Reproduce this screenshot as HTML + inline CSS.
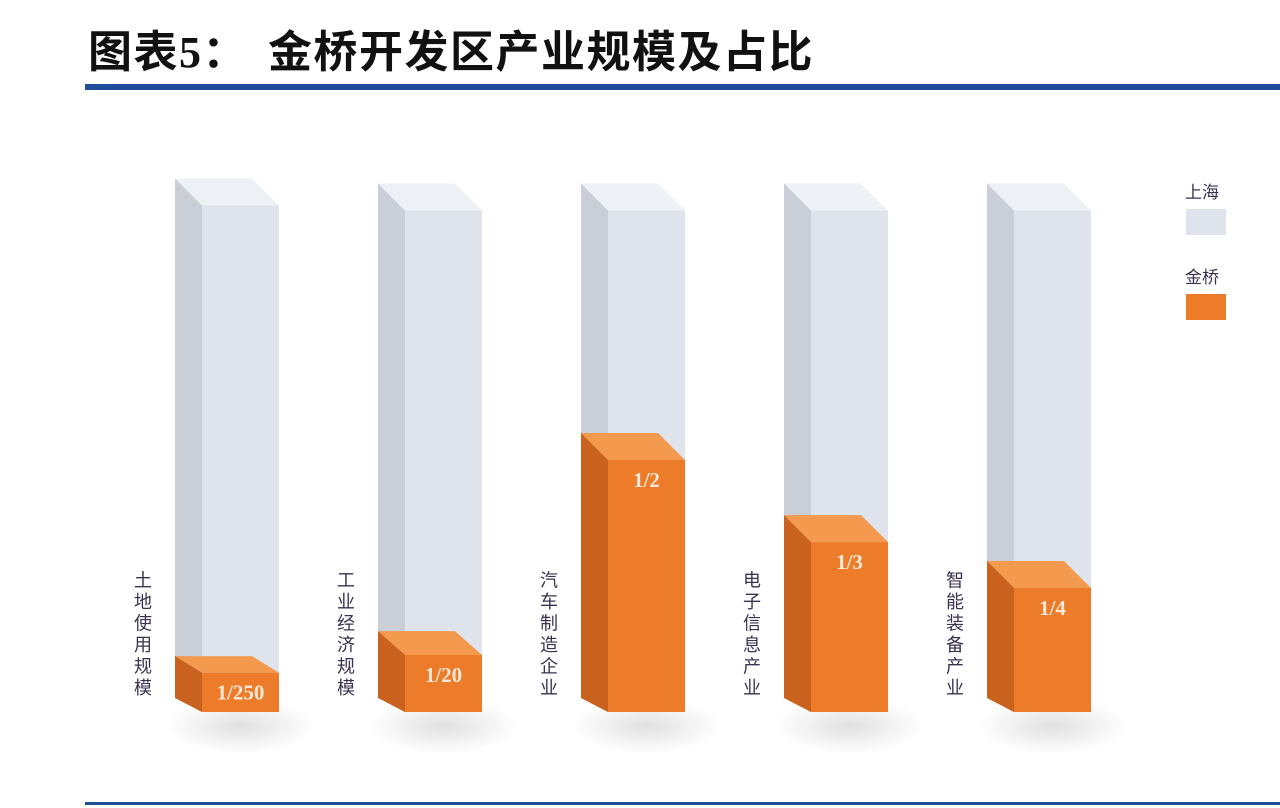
<!DOCTYPE html>
<html><head><meta charset="utf-8">
<style>
body{margin:0;background:#fff;width:1280px;height:808px;overflow:hidden;font-family:"Liberation Sans","Noto Sans CJK SC",sans-serif;}
.title{position:absolute;top:16px;font-size:44px;font-weight:bold;color:#111;font-family:"Liberation Serif","Noto Sans CJK SC",sans-serif;white-space:pre;letter-spacing:1.5px;}
#topline{position:absolute;left:85px;top:84px;width:1195px;height:6px;background:#1f4f9a;}
#botline{position:absolute;left:85px;top:802px;width:1195px;height:3px;background:#1f4f9a;}
svg{position:absolute;left:0;top:0;}
</style></head><body>
<div class="title" style="left:88px">图表5：</div>
<div class="title" style="left:268px">金桥开发区产业规模及占比</div>
<div id="topline"></div>
<div id="botline"></div>
<svg id="chart" width="1280" height="808">
<defs>
<radialGradient id="sh"><stop offset="0" stop-color="#000" stop-opacity="0.12"/><stop offset="1" stop-color="#000" stop-opacity="0"/></radialGradient>
</defs>
</svg>
<script>
const categories=["土地使用规模","工业经济规模","汽车制造企业","电子信息产业","智能装备产业"];
const valueLabels=["1/250","1/20","1/2","1/3","1/4"];
const jinqiao=[0.078,0.113,0.5,0.337,0.246];
const shanghai=[1.005,0.995,0.995,0.995,0.995];
const legendNames=["上海","金桥"];

const svg=document.getElementById('chart');
const NS='http://www.w3.org/2000/svg';
const baseY=712, fullH=504, x0=175, step=203, dx=27, fw=77;
function yScale(v){return baseY-v*fullH;}
function xPos(i){return x0+i*step;}
function poly(pts,fill,name){
  const p=document.createElementNS(NS,'polygon');
  p.setAttribute('points',pts.map(q=>q.join(',')).join(' '));
  p.setAttribute('fill',fill);
  
  
  svg.appendChild(p);return p;
}
function box(i,v,cols,name,dy){
  const x=xPos(i), fx=x+dx, ty=yScale(v);
  poly([[x,ty-dy],[x+fw,ty-dy],[fx+fw,ty],[fx,ty]],cols[0],name+'-top');
  poly([[x,ty-dy],[fx,ty],[fx,baseY],[x,baseY-14]],cols[1],name+'-side');
  poly([[fx,ty],[fx+fw,ty],[fx+fw,baseY],[fx,baseY]],cols[2],name+'-front');
}
categories.forEach((c,i)=>{
  const x=xPos(i);
  const e=document.createElementNS(NS,'ellipse');
  e.setAttribute('cx',x+dx+fw/2);e.setAttribute('cy',baseY+14);e.setAttribute('rx',75);e.setAttribute('ry',28);
  e.setAttribute('fill','url(#sh)');
  
  
  svg.appendChild(e);
  box(i,shanghai[i],['#eef1f5','#c9ced7','#dfe4ec'],'shanghai-bar-'+(i+1),27);
  const od=Math.min(27,jinqiao[i]*fullH*0.42);
  box(i,jinqiao[i],['#f39a4e','#c9621f','#ec7b2a'],'jinqiao-bar-'+(i+1),od);
  const t=document.createElementNS(NS,'text');
  t.setAttribute('x',x+dx+fw/2);t.setAttribute('y',yScale(jinqiao[i])+27);
  t.setAttribute('text-anchor','middle');t.setAttribute('font-size','21');t.setAttribute('font-weight','bold');
  t.setAttribute('font-family','"Liberation Serif",serif');t.setAttribute('fill','#fbe9d8');
  t.textContent=valueLabels[i];
  
  
  svg.appendChild(t);
  const chars=[...c];
  chars.forEach((ch,k)=>{
    const l=document.createElementNS(NS,'text');
    l.setAttribute('x',x-32);l.setAttribute('y',694-(chars.length-1-k)*21.5);
    l.setAttribute('text-anchor','middle');l.setAttribute('font-size','18');l.setAttribute('fill','#3a3250');
    l.textContent=ch;
    
    
    svg.appendChild(l);
  });
});
const legCols=['#dfe4ec','#ec7b2a'];
legendNames.forEach((n,i)=>{
  const y0=183+i*85;
  const t=document.createElementNS(NS,'text');
  t.setAttribute('x',1185);t.setAttribute('y',y0+15);t.setAttribute('font-size','17');t.setAttribute('fill','#3a3250');
  t.textContent=n;
  
  
  svg.appendChild(t);
  const r=document.createElementNS(NS,'rect');
  r.setAttribute('x',1186);r.setAttribute('y',y0+26);r.setAttribute('width',40);r.setAttribute('height',26);r.setAttribute('fill',legCols[i]);
  
  
  svg.appendChild(r);
});
</script>
</body></html>
